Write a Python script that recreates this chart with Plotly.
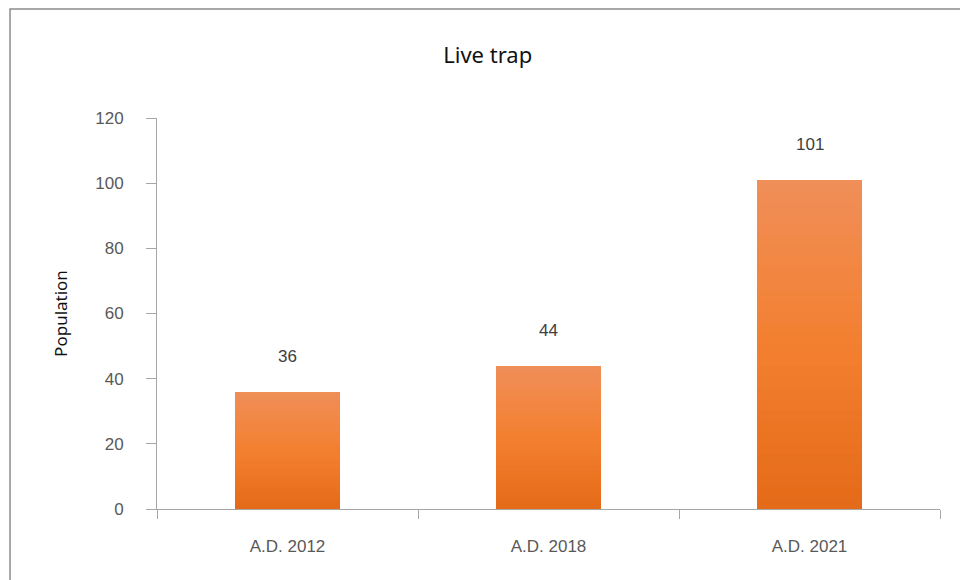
import plotly.graph_objects as go

categories = ["A.D. 2012", "A.D. 2018", "A.D. 2021"]
population = [36, 44, 101]
y_ticks = [0, 20, 40, 60, 80, 100, 120]

# gradient styling (top light -> bottom dark), purely visual
N_SEG = 30
stops = [(228, 106, 24), (243, 128, 48), (240, 142, 88)]  # bottom, mid, top


def grad_color(t):
    if t <= 0.5:
        a, b, u = stops[0], stops[1], t / 0.5
    else:
        a, b, u = stops[1], stops[2], (t - 0.5) / 0.5
    c = [round(a[k] + (b[k] - a[k]) * u) for k in range(3)]
    return f"rgb({c[0]},{c[1]},{c[2]})"


fig = go.Figure()
for i in range(N_SEG):
    fig.add_trace(go.Bar(
        x=categories,
        y=[v / N_SEG for v in population],
        marker=dict(color=grad_color((i + 0.5) / N_SEG), line=dict(width=0)),
        width=0.4,
        showlegend=False,
        hoverinfo="skip" if i < N_SEG - 1 else None,
        customdata=population,
        hovertemplate="%{x}: %{customdata}<extra></extra>",
    ))

for c, v in zip(categories, population):
    fig.add_annotation(
        x=c, y=v, text=str(v), showarrow=False, yanchor="bottom", yshift=24,
        font=dict(family="Liberation Sans", size=17, color="#404040"),
    )

# outer chart border
fig.add_shape(type="rect", xref="paper", yref="paper",
              x0=-0.1877, x1=1.04, y0=-0.2, y1=1.2788,
              line=dict(color="#8c8c8c", width=1.5), fillcolor="rgba(0,0,0,0)",
              layer="below")

fig.update_layout(
    barmode="stack",
    bargap=0.6,
    width=960, height=580,
    margin=dict(l=157, r=20, t=118, b=71, autoexpand=False),
    paper_bgcolor="white", plot_bgcolor="white",
    title=dict(text="Live trap", x=0.508, xref="container", xanchor="center",
               y=1 - 55 / 580, yref="container", yanchor="middle",
               font=dict(family="Noto Sans", size=22, color="#111111")),
    xaxis=dict(
        type="category", range=[-0.5, 2.5], showline=True, linecolor="#a6a6a6",
        linewidth=1, ticks="outside", tickson="boundaries", ticklen=9,
        tickcolor="#a6a6a6", tickwidth=1, showgrid=False, zeroline=False,
        ticklabelstandoff=22,
        tickfont=dict(family="Liberation Sans", size=17, color="#595959"),
    ),
    yaxis=dict(
        range=[0, 120], tickvals=y_ticks, showline=True, linecolor="#a6a6a6",
        linewidth=1, ticks="outside", ticklen=10, tickcolor="#a6a6a6",
        tickwidth=1, showgrid=False, zeroline=False, ticklabelstandoff=19,
        tickfont=dict(family="Liberation Sans", size=17, color="#595959"),
        title=dict(text="Population", standoff=23,
                   font=dict(family="Noto Sans", size=17, color="#111111")),
        automargin=False,
    ),
)

fig.write_html("out.html")
